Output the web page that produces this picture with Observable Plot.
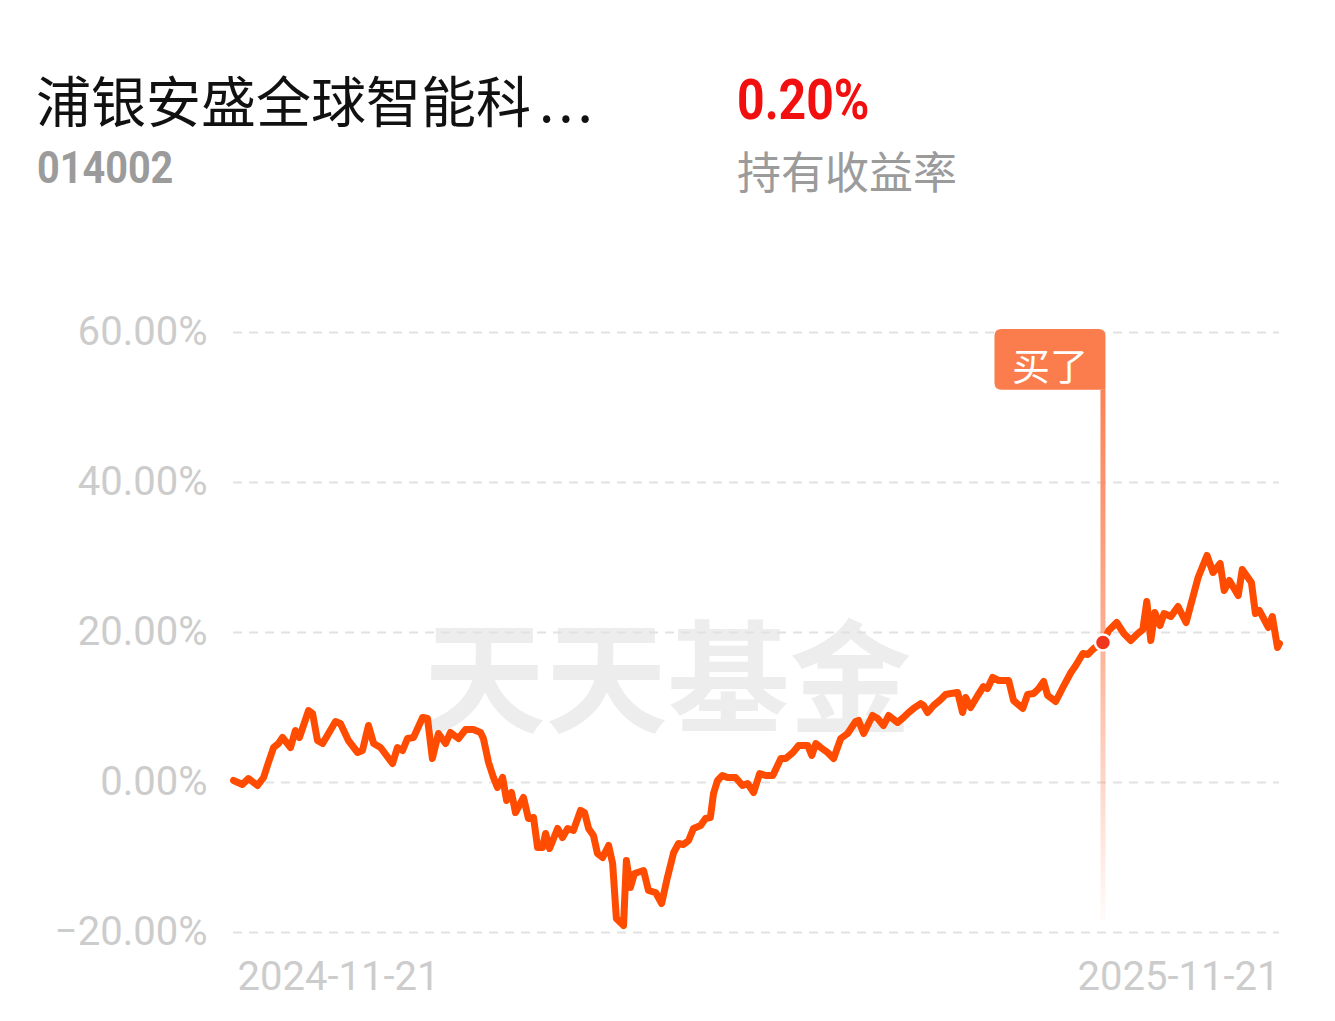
<!DOCTYPE html>
<html><head><meta charset="utf-8">
<script src="https://cdn.jsdelivr.net/npm/d3@7"></script>
<script src="https://cdn.jsdelivr.net/npm/@observablehq/plot@0.6"></script>
<style>
html,body{margin:0;padding:0;background:#fff;}
body{width:1335px;height:1021px;overflow:hidden;position:relative;}
.t{position:absolute;white-space:nowrap;line-height:1;}
#chart{position:absolute;left:0;top:260px;}
#dots{letter-spacing:4px;padding-left:8px;}
</style></head><body>
<div class="t" id="title" style="left:36px;top:71px;font-size:55px;font-family:'Noto Sans CJK SC';color:#111;"></div>
<div class="t" id="code" style="left:37px;top:146px;font-size:44px;font-weight:bold;font-family:Roboto;color:#9b9b9b;transform:scaleX(0.9);transform-origin:left top;"></div>
<div class="t" id="ret" style="left:737px;top:72px;font-size:56px;font-weight:bold;font-family:Roboto;color:#f20f0f;transform:scaleX(0.86);transform-origin:left top;"></div>
<div class="t" id="retLabel" style="left:737px;top:148px;font-size:44px;font-family:'Noto Sans CJK SC';color:#9b9b9b;"></div>
<div id="chart"></div>
<script>
const fundName = "浦银安盛全球智能科";
const fundNameEllipsis = "...";
const fundCode = "014002";
const holdingReturn = "0.20%";
const holdingLabel = "持有收益率";
const startDate = "2024-11-21";
const endDate = "2025-11-21";
const watermark = "天天基金";
const buyLabel = "买了";
const yTicks = [-20, 0, 20, 40, 60];
const dayOffsets = [0,3.1,5.2,8.4,10.5,12.2,14.0,15.7,17.1,19.9,
21.6,23.0,26.2,27.6,29.3,31.1,35.6,37.3,40.1,43.3,
45.0,47.1,48.9,51.3,55.5,57.2,59.0,60.7,62.8,66.0,
67.7,69.4,71.5,74.0,75.7,78.5,81.0,83.7,86.2,87.2,
89.0,90.7,92.1,93.9,95.3,97.0,98.4,101.2,102.9,104.7,
106.1,107.8,108.9,110.3,113.1,114.8,116.6,118.6,121.1,122.5,
123.9,125.6,127.0,128.8,130.9,132.3,133.6,136.1,137.1,138.5,
139.9,143.1,144.8,147.3,149.4,151.4,153.6,155.3,157.0,158.8,
160.5,163.0,164.7,166.4,167.5,168.9,170.6,172.4,175.2,177.6,
179.4,181.5,183.6,185.7,188.2,191.0,192.7,195.2,197.2,200.4,
201.8,203.2,204.9,207.3,209.4,211.9,214.3,217.1,218.1,219.9,
223.0,224.8,226.8,228.6,231.7,233.8,235.6,237.3,239.8,240.8,
242.2,244.3,246.8,248.5,250.3,252.7,254.4,255.5,257.2,259.7,
261.7,263.1,264.9,267.0,270.5,272.2,275.4,277.1,279.2,281.0,
282.7,284.1,286.9,289.4,292.2,293.9,296.4,298.1,300.2,303.4,
305.4,308.2,310.7,313.1,315.6,317.3,318.7,320.1,321.5,323.3,
324.7,327.1,329.6,332.4,336.6,339.7,341.8,344.3,345.7,347.5,
350.6,352.0,355.2,356.6,358.0,361.1,362.5,364.3,365];
const returns = [0.27,-0.27,0.53,-0.4,0.67,2.67,4.67,5.2,6.0,4.67,
6.93,6.0,9.6,9.2,5.6,5.2,8.13,7.87,5.6,4.0,
4.27,7.6,5.2,4.67,2.53,4.67,4.27,5.87,6.0,8.67,
8.53,3.2,6.53,5.2,6.67,5.87,7.07,7.07,6.67,5.87,
2.67,0.67,-0.67,0.67,-2.4,-1.33,-4.0,-2.0,-4.8,-4.67,
-8.67,-8.67,-6.8,-8.8,-6.13,-7.33,-6.13,-6.4,-3.73,-4.0,
-6.13,-7.07,-9.47,-10.0,-8.4,-10.8,-18.13,-19.07,-10.4,-14.0,
-12.13,-11.73,-14.4,-14.67,-16.13,-12.67,-9.33,-8.13,-8.27,-7.73,
-6.13,-5.73,-4.8,-4.67,-1.47,0.27,0.93,0.67,0.67,-0.4,
-0.13,-1.33,1.2,0.93,0.93,3.2,3.2,4.0,4.93,4.93,
3.6,5.2,4.67,4.0,3.2,5.87,6.53,8.13,8.27,6.53,
8.93,8.53,7.6,8.93,8.0,8.67,9.33,9.87,10.53,10.27,
9.33,10.27,11.07,11.73,11.87,12.0,9.33,11.33,10.0,11.6,
12.8,12.53,14.0,13.6,13.6,10.93,9.87,11.73,11.87,12.53,
13.47,11.6,10.8,12.67,14.67,15.6,17.2,17.07,17.87,18.67,
20.27,21.33,19.87,18.93,19.87,20.4,24.13,18.93,22.67,20.93,
22.53,22.13,23.47,21.33,27.33,30.27,28.0,29.2,25.6,26.93,
24.93,28.4,26.67,22.53,22.93,20.67,22.13,18.0,18.53];
const buyDay = 303.4;
const buyReturn = 18.67;

(function () {
const titleEl = document.getElementById("title");
titleEl.textContent = fundName;
const dots = document.createElement("span");
dots.id = "dots"; dots.textContent = fundNameEllipsis;
titleEl.appendChild(dots);
document.getElementById("code").textContent = fundCode;
document.getElementById("ret").textContent = holdingReturn;
document.getElementById("retLabel").textContent = holdingLabel;

const dayMs = 864e5;
const start = new Date(startDate + "T00:00:00Z");
const end = new Date(endDate + "T00:00:00Z");
const data = dayOffsets.map((d, i) => ({date: new Date(+start + d * dayMs), r: returns[i]}));
const buy = {date: new Date(+start + buyDay * dayMs), r: buyReturn};
const ruleTop = 52.3, ruleBottom = -18.4, boxTop = 60.4;
const fmt = d => (d < 0 ? "\u2212" : "") + Math.abs(d).toFixed(2) + "%";
const tickFont = "Roboto";
const tickColor = "#cccccc";

const plot = Plot.plot({
  width: 1335, height: 761,
  marginLeft: 233, marginRight: 56, marginTop: 72, marginBottom: 89,
  style: {background: "transparent", overflow: "visible", fontFamily: tickFont},
  x: {type: "utc", domain: [start, end], axis: null},
  y: {domain: [-20, 60], axis: null},
  marks: [
    Plot.text([watermark], {frameAnchor: "middle", dx: -89, dy: 51, fontSize: 122, fontWeight: "bold", fill: "#ededed", fontFamily: "'Noto Sans CJK SC'"}),
    Plot.ruleY(yTicks, {stroke: "#e2e2e2", strokeWidth: 2, strokeDasharray: "9,7"}),
    Plot.axisY(yTicks, {tickSize: 0, tickPadding: 26, fontSize: 40, fill: tickColor, tickFormat: fmt, fontFamily: tickFont, label: null}),
    Plot.text([startDate], {frameAnchor: "bottom-left", textAnchor: "start", dx: 4, dy: 57, fontSize: 40, fill: tickColor}),
    Plot.text([endDate], {frameAnchor: "bottom-right", textAnchor: "end", dy: 57, fontSize: 40, fill: tickColor}),
    Plot.ruleX([buy], {x: "date", y1: ruleTop, y2: ruleBottom, stroke: "url(#buyFade)", strokeWidth: 5}),
    Plot.line(data, {x: "date", y: "r", stroke: "#ff4c00", strokeWidth: 7, strokeLinejoin: "round", strokeLinecap: "round"}),
    Plot.dot([buy], {x: "date", y: "r", r: 8, fill: "#f0361c", stroke: "#fff", strokeWidth: 2.5})
  ]
});

const xs = plot.scale("x"), ys = plot.scale("y");
const svg = d3.select(plot);
const defs = svg.insert("defs", ":first-child");
const g = defs.append("linearGradient").attr("id", "buyFade")
  .attr("gradientUnits", "userSpaceOnUse")
  .attr("x1", 0).attr("x2", 0)
  .attr("y1", ys.apply(ruleTop)).attr("y2", ys.apply(ruleBottom));
g.append("stop").attr("offset", "0").attr("stop-color", "#fb8256").attr("stop-opacity", 1);
g.append("stop").attr("offset", "0.45").attr("stop-color", "#fb8a60").attr("stop-opacity", 0.7);
g.append("stop").attr("offset", "1").attr("stop-color", "#fb8a60").attr("stop-opacity", 0.03);

const bx = xs.apply(buy.date);
const bTop = ys.apply(boxTop), bBot = ys.apply(ruleTop);
const bLeft = bx - 108, bRight = bx + 3, rr = 7;
const box = svg.append("g");
box.append("path")
  .attr("d", `M${bLeft + rr},${bTop} H${bRight - rr} Q${bRight},${bTop} ${bRight},${bTop + rr} V${bBot} H${bLeft + rr} Q${bLeft},${bBot} ${bLeft},${bBot - rr} V${bTop + rr} Q${bLeft},${bTop} ${bLeft + rr},${bTop} Z`)
  .attr("fill", "#fb7d4d");
box.append("text")
  .attr("x", (bLeft + bRight) / 2).attr("y", (bTop + bBot) / 2 + 4)
  .attr("text-anchor", "middle").attr("dominant-baseline", "central")
  .attr("font-family", "'Noto Sans CJK SC'").attr("font-size", 38)
  .attr("fill", "#fff").text(buyLabel);

document.getElementById("chart").appendChild(plot);
})();
</script>
</body></html>
